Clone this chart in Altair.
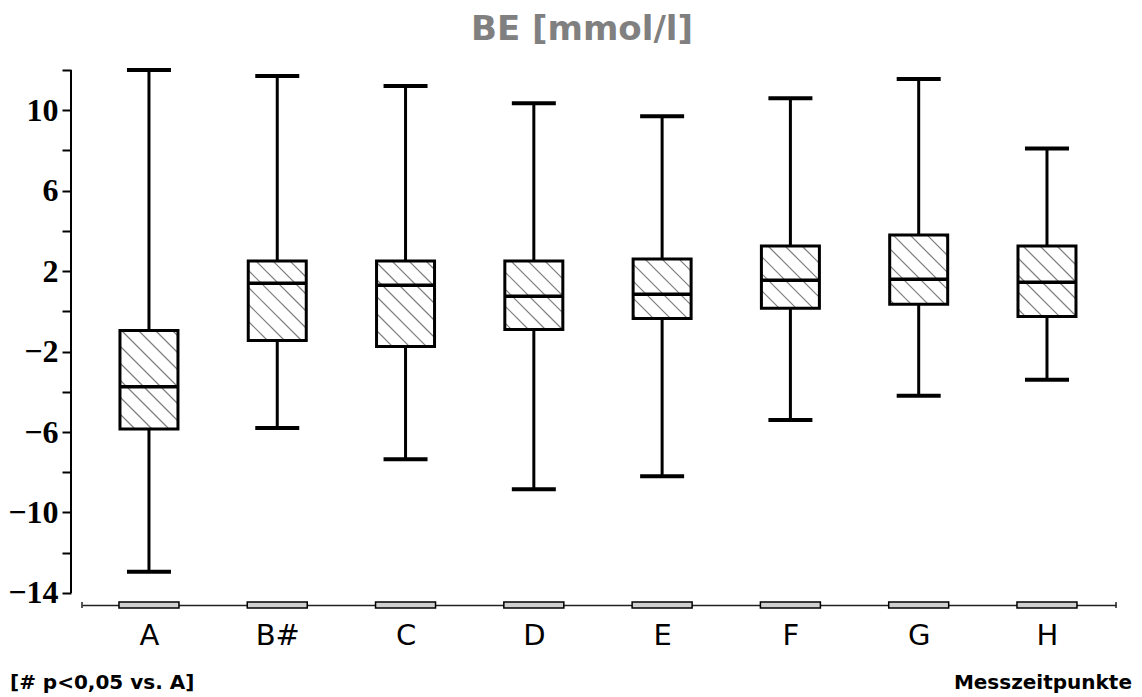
import altair as alt
import pandas as pd

# ---- data ----
cats = ["A", "B#", "C", "D", "E", "F", "G", "H"]
whisk_hi = [12.0, 11.7, 11.2, 10.35, 9.7, 10.6, 11.55, 8.1]
q3 = [-0.95, 2.5, 2.5, 2.5, 2.6, 3.25, 3.8, 3.25]
median = [-3.75, 1.4, 1.3, 0.75, 0.85, 1.55, 1.6, 1.45]
q1 = [-5.85, -1.45, -1.75, -0.9, -0.35, 0.15, 0.35, -0.25]
whisk_lo = [-12.95, -5.8, -7.35, -8.85, -8.2, -5.4, -4.2, -3.4]
y_ticks = list(range(-14, 13, 2))

# ---- layout ----
W, H = 1034, 535
X_DOM = [0.478, 8.538]
Y_DOM = [-14.6, 12.0]
PXU = W / (X_DOM[1] - X_DOM[0])   # px per x unit
PYU = H / (Y_DOM[1] - Y_DOM[0])   # px per y unit
BOX_HALF = 29 / PXU
CAP_HALF = 22 / PXU
FLAT_HALF = 30 / PXU

pos = list(range(1, len(cats) + 1))
df = pd.DataFrame({
    "pos": pos, "cat": cats, "hi": whisk_hi, "q3": q3, "med": median,
    "q1": q1, "lo": whisk_lo,
})
df["bl"] = df["pos"] - BOX_HALF
df["br"] = df["pos"] + BOX_HALF
df["cl"] = df["pos"] - CAP_HALF
df["cr"] = df["pos"] + CAP_HALF
df["fl"] = df["pos"] - FLAT_HALF
df["fr"] = df["pos"] + FLAT_HALF

# hatch segments (45deg, down-right), clipped to each box
rows = []
SP = 17.0
for p, top, bot in zip(pos, q3, q1):
    left = p - BOX_HALF
    w = 2 * BOX_HALF * PXU
    h = (top - bot) * PYU
    gx = (left - X_DOM[0]) * PXU
    gy = (Y_DOM[1] - top) * PYU
    k0 = int((gy - (gx + w)) // SP) - 1
    k1 = int((gy + h - gx) // SP) + 1
    for k in range(k0, k1 + 1):
        kk = k * SP - (gy - gx)  # local: v = u + kk
        u0 = max(0.0, -kk)
        u1 = min(w, h - kk)
        if u1 - u0 > 0.5:
            rows.append({
                "x": left + u0 / PXU, "y": top - (u0 + kk) / PYU,
                "x2": left + u1 / PXU, "y2": top - (u1 + kk) / PYU,
            })
hatch = pd.DataFrame(rows)
ends = pd.DataFrame({"x": X_DOM})
yaxis_line = pd.DataFrame({"y": [min(y_ticks)], "y2": [max(y_ticks)]})

xs = alt.Scale(domain=X_DOM, nice=False, zero=False)
ys = alt.Scale(domain=Y_DOM, nice=False, zero=False)

label_js = "[" + ",".join("'" + c + "'" for c in cats) + "]"
x_axis = alt.Axis(
    values=pos, labelExpr=label_js + "[datum.value-1]", title=None,
    grid=False, ticks=False, domainColor="#222222", domainWidth=1.5,
    labelFont="DejaVu Sans", labelFontSize=29, labelColor="black",
    labelPadding=16,
)
y_axis = alt.Axis(
    values=y_ticks, title=None, grid=False, domain=False,
    tickSize=9, tickWidth=2, tickColor="black", offset=11,
    labelExpr="abs(datum.value) % 4 == 2 ? datum.label : ''",
    labelFont="Liberation Serif",
    labelFontWeight="bold", labelFontSize=32, labelColor="black",
    labelPadding=4,
)

base = alt.Chart(df)

whiskers = base.mark_rule(color="black", strokeWidth=3).encode(
    x=alt.X("pos:Q", scale=xs, axis=x_axis),
    y=alt.Y("lo:Q", scale=ys, axis=y_axis),
    y2="hi:Q",
)
caps_hi = base.mark_rule(color="black", strokeWidth=4).encode(
    x=alt.X("cl:Q", scale=xs), x2="cr:Q", y=alt.Y("hi:Q", scale=ys))
caps_lo = base.mark_rule(color="black", strokeWidth=4).encode(
    x=alt.X("cl:Q", scale=xs), x2="cr:Q", y=alt.Y("lo:Q", scale=ys))
box_fill = base.mark_rect(fill="white").encode(
    x=alt.X("bl:Q", scale=xs), x2="br:Q", y=alt.Y("q1:Q", scale=ys), y2="q3:Q")
hatch_l = alt.Chart(hatch).mark_rule(color="#7d7d7d", strokeWidth=1.2).encode(
    x=alt.X("x:Q", scale=xs), x2="x2:Q", y=alt.Y("y:Q", scale=ys), y2="y2:Q")
box_line = base.mark_rect(fillOpacity=0, stroke="black", strokeWidth=3).encode(
    x=alt.X("bl:Q", scale=xs), x2="br:Q", y=alt.Y("q1:Q", scale=ys), y2="q3:Q")
med = base.mark_rule(color="black", strokeWidth=3.5).encode(
    x=alt.X("bl:Q", scale=xs), x2="br:Q", y=alt.Y("med:Q", scale=ys))
flats = base.mark_rect(fill="#d0d0d0", stroke="black", strokeWidth=1.5).encode(
    x=alt.X("fl:Q", scale=xs), x2="fr:Q", y=alt.value(H - 3), y2=alt.value(H + 3))
end_ticks = alt.Chart(ends).mark_rule(color="#222222", strokeWidth=1.5).encode(
    x=alt.X("x:Q", scale=xs), y=alt.value(H - 3), y2=alt.value(H + 3))
yline = alt.Chart(yaxis_line).mark_rule(color="black", strokeWidth=2).encode(
    x=alt.value(-11), y=alt.Y("y:Q", scale=ys), y2="y2:Q")

title = alt.Chart(pd.DataFrame({"t": ["BE [mmol/l]"]})).mark_text(
    font="DejaVu Sans", fontWeight="bold", fontSize=34, color="#808080",
    align="center", baseline="middle",
).encode(text="t:N", x=alt.value(500), y=alt.value(-40))
note = alt.Chart(pd.DataFrame({"t": ["[# p<0,05 vs. A]"]})).mark_text(
    font="DejaVu Sans", fontWeight="bold", fontSize=20, color="black",
    align="left", baseline="middle",
).encode(text="t:N", x=alt.value(-72), y=alt.value(613))
xlab = alt.Chart(pd.DataFrame({"t": ["Messzeitpunkte"]})).mark_text(
    font="DejaVu Sans", fontWeight="bold", fontSize=20, color="black",
    align="right", baseline="middle",
).encode(text="t:N", x=alt.value(1050), y=alt.value(613))

chart = alt.layer(
    whiskers, caps_hi, caps_lo, box_fill, hatch_l, box_line, med,
    flats, end_ticks, yline, title, note, xlab,
).properties(
    width=W, height=H,
    autosize=alt.AutoSizeParams(type="none"),
    padding={"left": 74, "top": 62, "right": 18, "bottom": 88},
).configure(background="white").configure_view(strokeWidth=0, stroke=None)

chart.save("out.html", embed_options={"renderer": "svg", "actions": False})
